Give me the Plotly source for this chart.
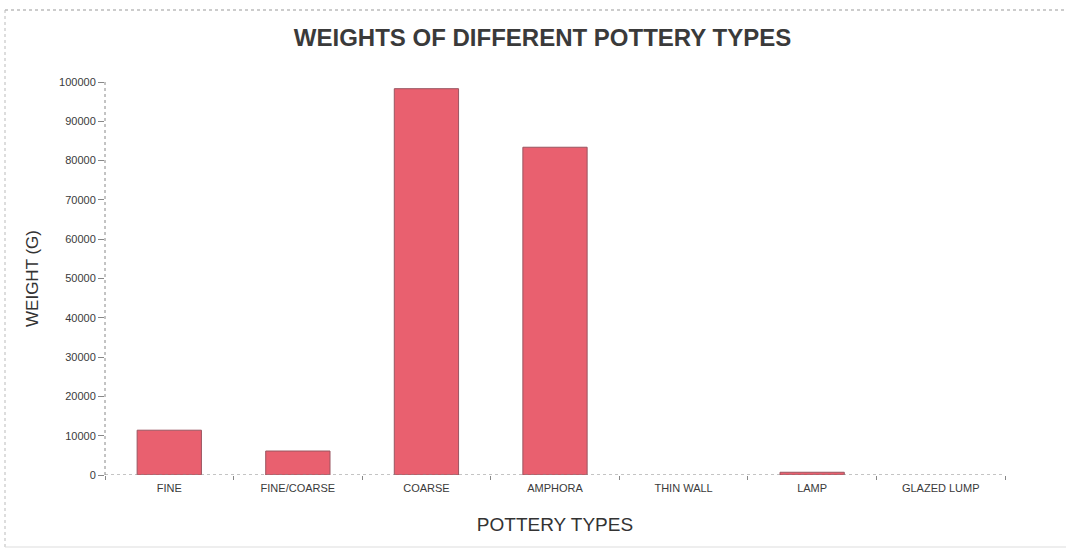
import plotly.graph_objects as go

# Pottery weight totals by type (grams)
pottery_types = ["FINE", "FINE/COARSE", "COARSE", "AMPHORA", "THIN WALL", "LAMP", "GLAZED LUMP"]
weights_g = [11400, 6100, 98300, 83400, 0, 700, 0]
y_ticks = [0, 10000, 20000, 30000, 40000, 50000, 60000, 70000, 80000, 90000, 100000]

W, H = 1068, 549
ML, MR, MT, MB = 105, 63, 82, 74
PW, PH = W - ML - MR, H - MT - MB

def px_x(p):
    return (p - ML) / PW

def px_y(p):
    return (H - MB - p) / PH

fig = go.Figure(
    go.Bar(
        x=pottery_types,
        y=weights_g,
        marker=dict(
            color="#E9606F",
            line=dict(color="#9a5560", width=[1 if v > 0 else 0 for v in weights_g]),
        ),
    )
)

axis_font = dict(family="Liberation Sans, Arial, sans-serif", size=11, color="#3a3a3a")

fig.update_layout(
    width=W,
    height=H,
    margin=dict(l=ML, r=MR, t=MT, b=MB),
    paper_bgcolor="white",
    plot_bgcolor="white",
    bargap=0.5,
    showlegend=False,
    title=dict(
        text="<b>WEIGHTS OF DIFFERENT POTTERY TYPES</b>",
        x=0.508,
        xanchor="center",
        y=1 - 38 / H,
        yanchor="middle",
        font=dict(family="Liberation Sans, Arial, sans-serif", size=24, color="#3a3a3a"),
    ),
    xaxis=dict(
        showgrid=False,
        zeroline=False,
        showline=False,
        ticks="outside",
        tickson="boundaries",
        ticklen=4,
        tickcolor="#888888",
        tickfont=axis_font,
        ticklabelstandoff=5,
        title=dict(
            text="POTTERY TYPES",
            font=dict(family="Liberation Sans, Arial, sans-serif", size=19, color="#333333"),
            standoff=24,
        ),
    ),
    yaxis=dict(
        range=[0, 100000],
        tickvals=y_ticks,
        ticktext=[str(v) for v in y_ticks],
        showgrid=False,
        zeroline=False,
        showline=False,
        ticks="outside",
        ticklen=6,
        tickcolor="#888888",
        tickfont=axis_font,
        title=dict(
            text="WEIGHT (G)",
            font=dict(family="Liberation Sans, Arial, sans-serif", size=17, color="#333333"),
            standoff=16,
        ),
    ),
)

# Dotted axis lines
fig.add_shape(type="line", xref="paper", yref="y", x0=0, x1=0, y0=0, y1=100000,
              line=dict(color="#888888", width=1, dash="dot"))
fig.add_shape(type="line", xref="paper", yref="y", x0=0, x1=1, y0=0, y1=0,
              line=dict(color="#888888", width=1, dash="dot"))

# Page frame
fig.add_shape(type="line", xref="paper", yref="paper", x0=px_x(5), x1=px_x(1066),
              y0=px_y(10), y1=px_y(10), line=dict(color="#999999", width=1, dash="dot"))
fig.add_shape(type="line", xref="paper", yref="paper", x0=px_x(5), x1=px_x(5),
              y0=px_y(10), y1=px_y(547), line=dict(color="#bbbbbb", width=1, dash="dot"))
fig.add_shape(type="line", xref="paper", yref="paper", x0=px_x(5), x1=px_x(1066),
              y0=px_y(547), y1=px_y(547), line=dict(color="#dddddd", width=1))

fig.write_html("out.html")
